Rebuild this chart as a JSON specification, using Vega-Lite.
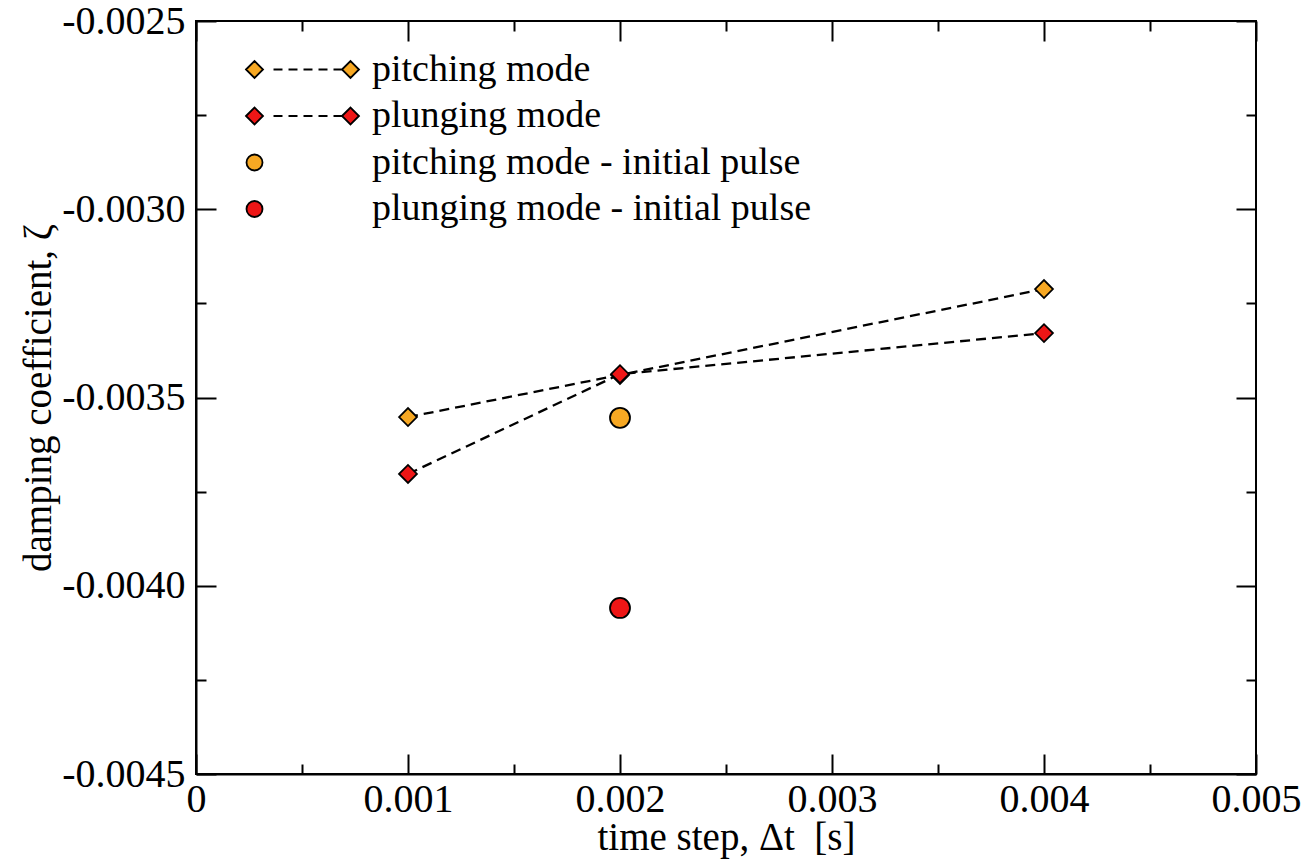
{
  "$schema": "https://vega.github.io/schema/vega-lite/v6.json",
  "width": 1060,
  "height": 753,
  "autosize": {"type": "none"},
  "padding": {"left": 196, "top": 21, "right": 47, "bottom": 86},
  "background": "white",
  "data": {
    "values": [
      {"dt": 0.001, "zeta": -0.003552, "series": "pitching mode"},
      {"dt": 0.002, "zeta": -0.00344, "series": "pitching mode"},
      {"dt": 0.004, "zeta": -0.003212, "series": "pitching mode"},
      {"dt": 0.001, "zeta": -0.003703, "series": "plunging mode"},
      {"dt": 0.002, "zeta": -0.003438, "series": "plunging mode"},
      {"dt": 0.004, "zeta": -0.003329, "series": "plunging mode"},
      {"dt": 0.002, "zeta": -0.003554, "series": "pitching mode - initial pulse"},
      {"dt": 0.002, "zeta": -0.004059, "series": "plunging mode - initial pulse"}
    ]
  },
  "resolve": {"axis": {"x": "independent", "y": "independent"}},
  "layer": [
    {
      "transform": [{"filter": "indexof(datum.series, 'initial') < 0"}],
      "mark": {"type": "line", "color": "black", "strokeWidth": 2.3, "strokeDash": [10, 6]},
      "encoding": {
        "x": {
          "field": "dt", "type": "quantitative",
          "scale": {"domain": [0, 0.005], "nice": false, "zero": false},
          "axis": {
            "orient": "bottom",
            "title": "time step, Δt\u00a0\u00a0[s]",
            "values": [0, 0.0005, 0.001, 0.0015, 0.002, 0.0025, 0.003, 0.0035, 0.004, 0.0045, 0.005],
            "tickSize": {"condition": {"test": "round(datum.value*2000) % 2 == 1", "value": -10}, "value": -20},
            "labelExpr": "round(datum.value*2000) % 2 == 0 ? (datum.value == 0 ? '0' : format(datum.value, '.3f')) : ''",
            "labelFont": "Liberation Serif",
            "labelFontSize": 40,
            "labelPadding": 25,
            "titlePadding": -11
          }
        },
        "y": {
          "field": "zeta", "type": "quantitative",
          "scale": {"domain": [-0.0045, -0.0025], "nice": false, "zero": false},
          "axis": {
            "orient": "left",
            "title": "damping coefficient, ζ",
            "values": [-0.0045, -0.00425, -0.004, -0.00375, -0.0035, -0.00325, -0.003, -0.00275, -0.0025],
            "tickSize": {"condition": {"test": "round(abs(datum.value)*4000) % 2 == 1", "value": -10}, "value": -20},
            "labelExpr": "round(abs(datum.value)*4000) % 2 == 0 ? '-' + format(abs(datum.value), '.4f') : ''",
            "labelFont": "Liberation Serif",
            "labelFontSize": 40,
            "labelPadding": 31,
            "titlePadding": 3
          }
        },
        "detail": {"field": "series", "type": "nominal"}
      }
    },
    {
      "transform": [{"filter": "indexof(datum.series, 'initial') < 0"}],
      "mark": {"type": "point", "shape": "diamond", "filled": true, "size": 320, "stroke": "black", "strokeWidth": 1.8, "opacity": 1},
      "encoding": {
        "x": {"field": "dt", "type": "quantitative", "axis": null},
        "y": {"field": "zeta", "type": "quantitative", "axis": null},
        "color": {
          "field": "series", "type": "nominal",
          "scale": {"domain": ["plunging mode", "pitching mode", "plunging mode - initial pulse", "pitching mode - initial pulse"], "range": ["#ee1616", "#f7a823", "#ee1616", "#f7a823"]},
          "legend": null
        }
      }
    },
    {
      "transform": [{"filter": "indexof(datum.series, 'initial') >= 0"}],
      "mark": {"type": "point", "shape": "circle", "filled": true, "size": 400, "stroke": "black", "strokeWidth": 1.8, "opacity": 1},
      "encoding": {
        "x": {"field": "dt", "type": "quantitative", "axis": null},
        "y": {"field": "zeta", "type": "quantitative", "axis": null},
        "color": {
          "field": "series", "type": "nominal",
          "scale": {"domain": ["plunging mode", "pitching mode", "plunging mode - initial pulse", "pitching mode - initial pulse"], "range": ["#ee1616", "#f7a823", "#ee1616", "#f7a823"]},
          "legend": null
        }
      }
    },
    {
      "transform": [{"filter": "false"}],
      "mark": {"type": "point", "filled": true, "size": 1980, "stroke": "black", "strokeWidth": 1.8, "opacity": 1},
      "encoding": {
        "x": {
          "field": "dt", "type": "quantitative",
          "axis": {
            "orient": "top", "title": null, "domain": false,
            "values": [0, 0.0005, 0.001, 0.0015, 0.002, 0.0025, 0.003, 0.0035, 0.004, 0.0045, 0.005],
            "tickSize": {"condition": {"test": "round(datum.value*2000) % 2 == 1", "value": -10}, "value": -20},
            "labels": false
          }
        },
        "y": {
          "field": "zeta", "type": "quantitative",
          "axis": {
            "orient": "right", "title": null, "domain": false,
            "values": [-0.0045, -0.00425, -0.004, -0.00375, -0.0035, -0.00325, -0.003, -0.00275, -0.0025],
            "tickSize": {"condition": {"test": "round(abs(datum.value)*4000) % 2 == 1", "value": -10}, "value": -20},
            "labels": false
          }
        },
        "fill": {
          "field": "series", "type": "nominal",
          "scale": {"domain": ["pitching mode", "plunging mode", "pitching mode - initial pulse", "plunging mode - initial pulse"], "range": ["#f7a823", "#ee1616", "#f7a823", "#ee1616"]},
          "legend": {
            "title": null, "orient": "none", "legendX": 83, "legendY": 25,
            "encode": {"symbols": {"update": {"stroke": {"value": "black"}, "strokeWidth": {"value": 1.8}, "opacity": {"value": 1}}}}
          }
        },
        "shape": {
          "field": "series", "type": "nominal",
          "scale": {
            "domain": ["pitching mode", "plunging mode", "pitching mode - initial pulse", "plunging mode - initial pulse"],
            "range": [
              "M -2.539 0 L -2.157 -0.382 L -1.775 0 L -2.157 0.382 Z M 1.775 0 L 2.157 -0.382 L 2.539 0 L 2.157 0.382 Z M -1.303 0 L -0.899 0 M -0.629 0 L -0.225 0 M 0.045 0 L 0.449 0 M 0.719 0 L 1.124 0 M 1.393 0 L 1.775 0",
              "M -2.539 0 L -2.157 -0.382 L -1.775 0 L -2.157 0.382 Z M 1.775 0 L 2.157 -0.382 L 2.539 0 L 2.157 0.382 Z M -1.303 0 L -0.899 0 M -0.629 0 L -0.225 0 M 0.045 0 L 0.449 0 M 0.719 0 L 1.124 0 M 1.393 0 L 1.775 0",
              "M -2.517 0 A 0.36 0.36 0 1 0 -1.797 0 A 0.36 0.36 0 1 0 -2.517 0 Z",
              "M -2.517 0 A 0.36 0.36 0 1 0 -1.797 0 A 0.36 0.36 0 1 0 -2.517 0 Z"
            ]
          },
          "legend": {
            "title": null, "orient": "none", "legendX": 83, "legendY": 25,
            "encode": {"symbols": {"update": {"stroke": {"value": "black"}, "strokeWidth": {"value": 1.8}, "opacity": {"value": 1}}}}
          }
        }
      }
    }
  ],
  "config": {
    "font": "Liberation Serif",
    "view": {"stroke": "black", "strokeWidth": 2},
    "axis": {
      "grid": false,
      "domainColor": "black", "domainWidth": 2,
      "tickColor": "black", "tickWidth": 2,
      "labelColor": "black", "labelFont": "Liberation Serif", "labelFontSize": 40,
      "titleFont": "Liberation Serif", "titleFontSize": 39, "titleFontWeight": "normal", "titleColor": "black",
      "labelFlush": false, "labelOverlap": false
    },
    "legend": {
      "labelFont": "Liberation Serif", "labelFontSize": 38, "labelColor": "black",
      "symbolSize": 1980, "symbolStrokeColor": "black", "symbolStrokeWidth": 1.8, "symbolOpacity": 1,
      "rowPadding": 3.5, "padding": 0, "labelOffset": 46, "labelLimit": 0
    }
  }
}
